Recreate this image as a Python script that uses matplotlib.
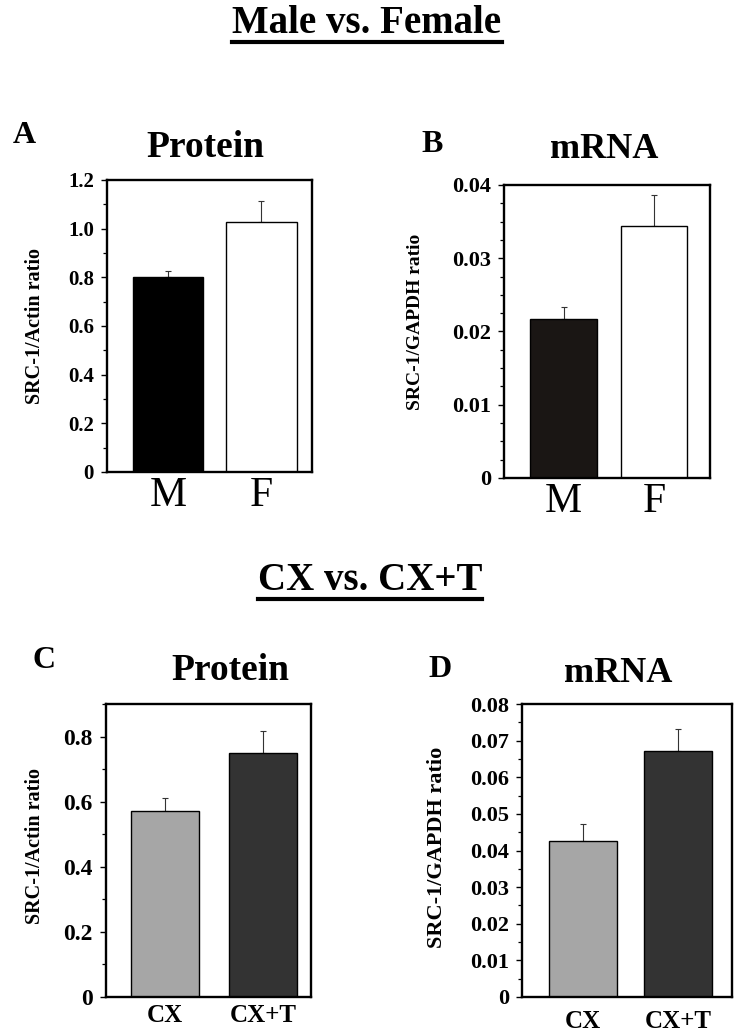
import numpy as np
import matplotlib
matplotlib.use("Agg")
import matplotlib.pyplot as plt
from matplotlib.lines import Line2D
from matplotlib.ticker import MultipleLocator, FixedLocator

plt.rcParams['font.family'] = ['Liberation Serif', 'DejaVu Serif']

W, H = 734, 1032

# data
groups_mf = ['M', 'F']
protein_mf = [0.80, 1.027]
protein_mf_err = [0.025, 0.087]
mrna_mf = [0.0217, 0.0344]
mrna_mf_err = [0.0016, 0.0042]

groups_cx = ['CX', 'CX+T']
protein_cx = [0.570, 0.749]
protein_cx_err = [0.042, 0.069]
mrna_cx = [0.0427, 0.0673]
mrna_cx_err = [0.0045, 0.0058]

colors_mf = [['#000000', '#ffffff'], ['#1a1614', '#ffffff']]
colors_cx = ['#a6a6a6', '#333333']


def px(x0, y0, x1, y1):
    # pixel box -> figure fraction rect
    return [x0 / W, 1 - y1 / H, (x1 - x0) / W, (y1 - y0) / H]


def panel(rect, vals, errs, labels, colors, ylim, major, minor, xlim, width,
          ytick_fmt, tick_fs, xfs, xbold, xpad):
    ax = fig.add_axes(rect)
    x = np.arange(len(vals))
    ax.bar(x, vals, width=width, color=colors, edgecolor='black', linewidth=1.0, zorder=2)
    ax.errorbar(x, vals, yerr=[np.zeros(len(errs)), errs], fmt='none',
                ecolor='#333333', elinewidth=0.8, capsize=2.5, capthick=0.8, zorder=1)
    ax.set_xlim(*xlim)
    ax.set_ylim(*ylim)
    ax.yaxis.set_major_locator(FixedLocator(major))
    ax.yaxis.set_minor_locator(MultipleLocator(minor))
    ax.set_yticklabels([ytick_fmt(v) for v in major], fontsize=tick_fs, fontweight='bold')
    ax.set_xticks(x)
    ax.set_xticklabels(labels, fontsize=xfs, fontweight='bold' if xbold else 'normal')
    ax.tick_params(axis='x', length=0, pad=xpad)
    ax.tick_params(axis='y', which='major', direction='out', length=4.5, width=1.0, pad=5)
    ax.tick_params(axis='y', which='minor', direction='out', length=3, width=0.9)
    for s in ax.spines.values():
        s.set_linewidth(1.7)
    return ax


fig = plt.figure(figsize=(W / 100, H / 100), dpi=100)


def fmt_a(v):
    return '0' if v == 0 else '%.1f' % v


def fmt_b(v):
    return '0' if v == 0 else '%.2f' % v


panel(px(107, 180, 312, 472), protein_mf, protein_mf_err, groups_mf, colors_mf[0],
      (0, 1.2), [0, 0.2, 0.4, 0.6, 0.8, 1.0, 1.2], 0.1, (-0.65, 1.54), 0.75,
      fmt_a, 15, 30, False, 3)
panel(px(504, 185, 710, 478), mrna_mf, mrna_mf_err, groups_mf, colors_mf[1],
      (0, 0.04), [0, 0.01, 0.02, 0.03, 0.04], 0.0025, (-0.66, 1.62), 0.74,
      fmt_b, 16, 30, False, 3)
panel(px(106, 704, 311, 997), protein_cx, protein_cx_err, groups_cx, colors_cx,
      (0, 0.9), [0, 0.2, 0.4, 0.6, 0.8], 0.1, (-0.60, 1.49), 0.69,
      fmt_a, 17, 18, True, 5)
panel(px(522, 704, 732, 997), mrna_cx, mrna_cx_err, groups_cx, colors_cx,
      (0, 0.08), [0, 0.01, 0.02, 0.03, 0.04, 0.05, 0.06, 0.07, 0.08], 0.005,
      (-0.64, 1.57), 0.72, fmt_b, 16, 18, True, 9)


def ftext(x, y, s, fs, **kw):
    return fig.text(x / W, 1 - y / H, s, fontsize=fs, fontweight='bold', **kw)


# y axis labels
ftext(35, 326, 'SRC-1/Actin ratio', 14.5, rotation=90, ha='center', va='center')
ftext(415, 322, 'SRC-1/GAPDH ratio', 14, rotation=90, ha='center', va='center')
ftext(35, 846, 'SRC-1/Actin ratio', 14.5, rotation=90, ha='center', va='center')
ftext(437, 847, 'SRC-1/GAPDH ratio', 16, rotation=90, ha='center', va='center')

# panel letters and titles
ftext(24, 143, 'A', 23, ha='center', va='baseline')
ftext(205, 157, 'Protein', 27, ha='center', va='baseline')
ftext(432, 152, 'B', 23, ha='center', va='baseline')
ftext(604, 158, 'mRNA', 26, ha='center', va='baseline')
ftext(44, 668, 'C', 23, ha='center', va='baseline')
ftext(230, 680, 'Protein', 27, ha='center', va='baseline')
ftext(440, 677, 'D', 23, ha='center', va='baseline')
ftext(618, 682, 'mRNA', 26, ha='center', va='baseline')

# underlined section headings
t1 = ftext(367, 33, 'Male vs. Female', 28, ha='center', va='baseline')
t2 = ftext(370, 590, 'CX vs. CX+T', 28, ha='center', va='baseline')
fig.canvas.draw()
r = fig.canvas.get_renderer()
for t, uy in [(t1, 42), (t2, 599)]:
    bb = t.get_window_extent(r)
    fig.add_artist(Line2D([bb.x0 / W, bb.x1 / W], [1 - uy / H, 1 - uy / H],
                          transform=fig.transFigure, color='black', linewidth=3))

fig.savefig('out.png', dpi=100)
